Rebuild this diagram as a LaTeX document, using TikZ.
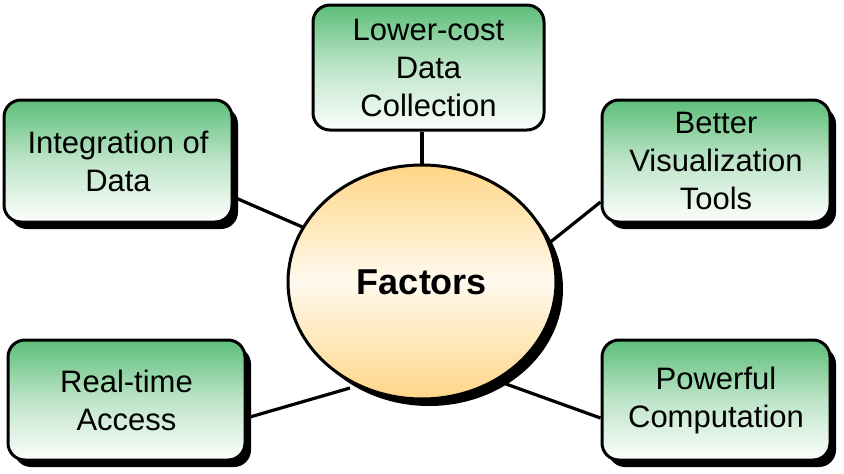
\documentclass[tikz,border=0pt]{standalone}
\usepackage{fontspec}
\setmainfont{Liberation Sans}
\usetikzlibrary{shapes.geometric,shadows,calc,backgrounds}
\definecolor{boxgreen}{RGB}{92,190,120}
\definecolor{boxwhite}{RGB}{252,254,252}
\definecolor{ovorange}{RGB}{255,214,135}
\definecolor{ovwhite}{RGB}{255,249,238}
\tikzset{
  factorbox/.style={draw=black, line width=3pt, rounded corners=17pt,
    top color=boxgreen, bottom color=boxwhite, middle color=boxgreen!40!white,
    inner sep=0pt, align=center, font=\fontsize{31}{38}\selectfont},
  boxshadow/.style={drop shadow={shadow xshift=6pt, shadow yshift=-7pt, fill=black, opacity=1}},
  centreoval/.style={ellipse, draw=black, line width=3pt, inner sep=0pt,
    top color=ovorange, bottom color=ovorange, middle color=ovwhite,
    minimum width=268pt, minimum height=234pt,
    font=\fontsize{36}{40}\selectfont\bfseries},
  link/.style={draw=black, line width=3.2pt}
}
\begin{document}
\begin{tikzpicture}[x=1pt,y=-1pt]
\useasboundingbox (0,0) rectangle (844,474);
\node[centreoval, drop shadow={shadow xshift=7pt, shadow yshift=-7pt, fill=black, opacity=1}] (c) at (422,282) {Factors};
\node[factorbox, minimum width=231pt, minimum height=125pt] (top) at (428.5,67.5) {Lower-cost\\Data\\Collection};
\node[factorbox, boxshadow, minimum width=228pt, minimum height=122pt] (int) at (118,161) {Integration of\\Data};
\node[factorbox, boxshadow, minimum width=228pt, minimum height=122pt] (bet) at (716,161) {Better\\Visualization\\Tools};
\node[factorbox, boxshadow, minimum width=237pt, minimum height=120pt] (rt) at (126.5,400) {Real-time\\Access};
\node[factorbox, boxshadow, minimum width=228pt, minimum height=120pt] (pow) at (716,400) {Powerful\\Computation};
\begin{scope}[on background layer]
\draw[link] (c.center) -- (c.center |- top.south);
\draw[link] ($(int.east)+(0,36)$) -- ($(c.center)+(-115,-53)$);
\draw[link] ($(bet.west)+(0,41)$) -- ($(c.center)+(126,-38)$);
\draw[link] ($(rt.east)+(0,18)$) -- ($(c.center)+(-72,106)$);
\draw[link] ($(pow.west)+(0,18)$) -- ($(c.center)+(84,102)$);
\end{scope}
\end{tikzpicture}
\end{document}
